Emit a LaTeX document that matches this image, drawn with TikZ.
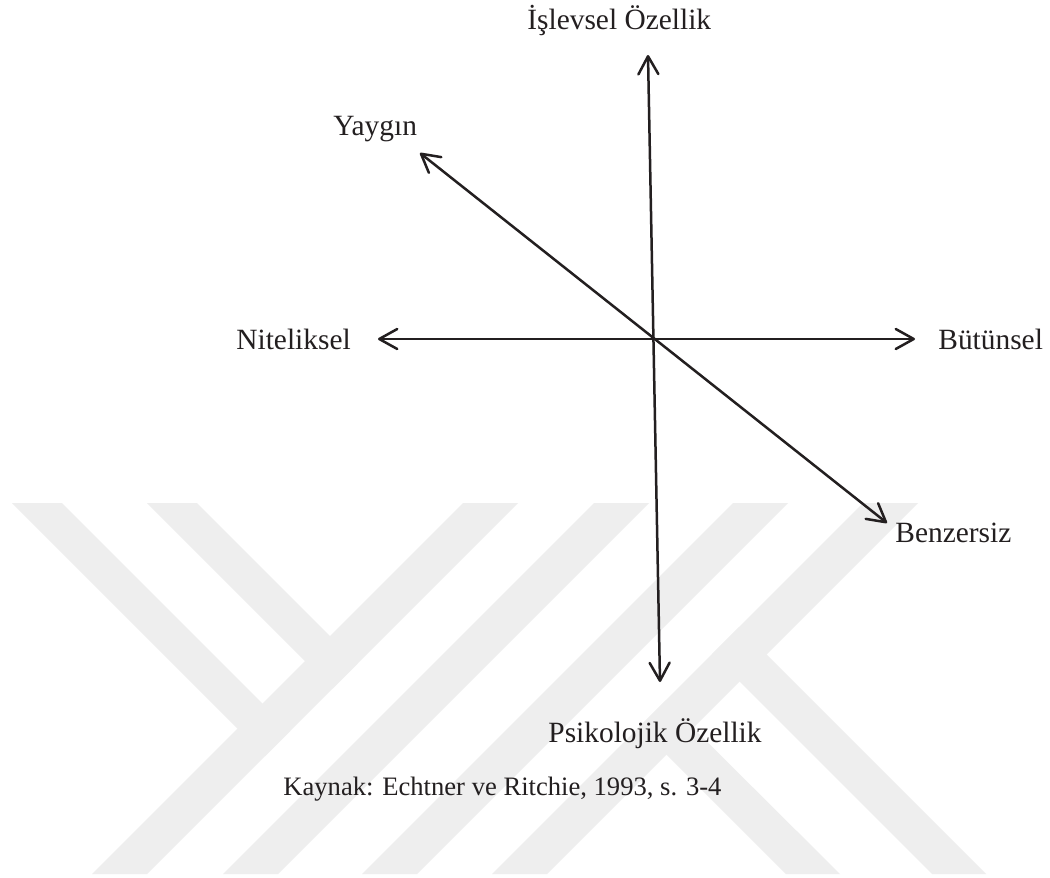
\documentclass[tikz,border=0pt]{standalone}
\usepackage{fontspec}
\setmainfont{Liberation Serif}
\usetikzlibrary{arrows.meta}
\definecolor{ink}{RGB}{35,31,32}
\definecolor{mark}{RGB}{238,238,238}
\tikzset{
  axis/.style={draw=ink, line width=1.25pt,
    {Straight Barb[length=9pt,width=10pt,line cap=round,line join=round]}-{Straight Barb[length=9pt,width=10pt,line cap=round,line join=round]}},
  pole/.style={anchor=base west, inner sep=0pt, text=ink,
    font=\fontsize{14.7}{17}\selectfont},
  source/.style={anchor=base west, inner sep=0pt, text=ink,
    font=\fontsize{13.3}{16}\selectfont},
  band/.style={fill=mark, draw=none}
}
\begin{document}
\begin{tikzpicture}[x=0.5pt, y=-0.5pt]
\useasboundingbox (0,0) rectangle (1050,878);
\fill[white] (0,0) rectangle (1050,878);

% background emblem made of diagonal bands
\fill[band] (12,503) -- (62,503) -- (290,731) -- (265,756) -- cycle;
\fill[band] (147,503) -- (197,503) -- (357.5,663.5) -- (332.5,688.5) -- cycle;
\fill[band] (463,503) -- (518,503) -- (147,874) -- (92,874) -- cycle;
\fill[band] (594,503) -- (649,503) -- (278,874) -- (223,874) -- cycle;
\fill[band] (733,503) -- (788,503) -- (417,874) -- (362,874) -- cycle;
\fill[band] (863,503) -- (918,503) -- (547,874) -- (492,874) -- cycle;
\fill[band] (639,727) -- (665.5,700.5) -- (840,874) -- (786,874) -- cycle;
\fill[band] (712,654) -- (739,627) -- (986,874) -- (932,874) -- cycle;

% arrow end points
\coordinate (n) at (648,55);
\coordinate (s) at (660,682);
\coordinate (w) at (378,339);
\coordinate (e) at (915,339);
\coordinate (nw) at (420,153);
\coordinate (se) at (887,523);

% axes
\draw[axis] (s) -- (n);
\draw[axis] (w) -- (e);
\draw[axis] (nw) -- (se);

% pole labels
\node[pole] (islevsel) at (527,29) {İşlevsel Özellik};
\node[pole] (psikolojik) at (548,742) {Psikolojik Özellik};
\node[pole] (niteliksel) at (236,349) {Niteliksel};
\node[pole] (butunsel) at (938,349) {Bütünsel};
\node[pole] (yaygin) at (333,135) {Yaygın};
\node[pole] (benzersiz) at (895,542) {Benzersiz};

% source line
\node[source] (kaynak) at (283,795) {Kaynak: Echtner ve Ritchie, 1993, s. 3-4};
\end{tikzpicture}
\end{document}
